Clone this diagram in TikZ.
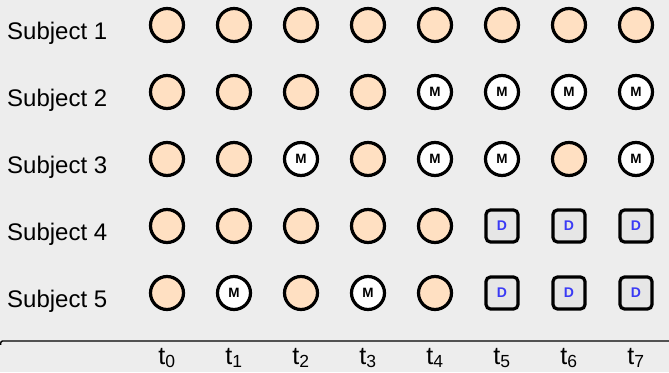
\documentclass[tikz,border=0pt]{standalone}
\usepackage{fontspec}
\setmainfont{Liberation Sans}
\definecolor{peach}{HTML}{FFE0C2}
\definecolor{bgtex}{HTML}{EDEDED}
\definecolor{dropgray}{HTML}{E6E6E6}
\definecolor{dblue}{HTML}{3A3AF5}

\begin{document}
\begin{tikzpicture}[x=1pt, y=1pt,
	subjlabel/.style={font=\fontsize{24}{28}\selectfont, inner sep=0pt},
	tlabel/.style={font=\fontsize{25}{28}\selectfont, inner sep=0pt},
	sto/.style={circle, draw, line width=3.2pt, fill=peach, minimum size=33pt, inner sep=0pt},
	stm/.style={sto, fill=white, label={[font=\fontsize{13.5}{14}\selectfont\bfseries, inner sep=0pt]center:M}},
	std/.style={rectangle, rounded corners=4.5pt, draw, line width=3.2pt, fill=dropgray, minimum size=32pt, inner sep=0pt,
		label={[font=\fontsize{14}{14}\selectfont\bfseries, text=dblue, inner sep=0pt]center:D}}]
	\useasboundingbox (0,0) rectangle (669,372);
	\fill[bgtex] (0,0) rectangle (669,372);
	% subjects over time
	\foreach \row [count=\r] in {
		{o,o,o,o,o,o,o,o},
		{o,o,o,o,m,m,m,m},
		{o,o,m,o,m,m,o,m},
		{o,o,o,o,o,d,d,d},
		{o,m,o,m,o,d,d,d}} {
		\node[subjlabel, anchor=base west] (subj\r) at (7, 399.5-67*\r) {Subject \r};
		\foreach \s [count=\c from 0] in \row {
			\node[st\s] (s\r t\c) at (167+67*\c, 414-67*\r) {};
		}
	}
	% time axis
	\draw[line width=1.4pt, rounded corners=2pt] (0.7,27) -- (0.7,31) -- (672,31);
	\foreach \c in {0,...,7}
		\node[tlabel, anchor=base] (t\c) at (167+67*\c, 8) {t\textsubscript{\c}};
\end{tikzpicture}
\end{document}
